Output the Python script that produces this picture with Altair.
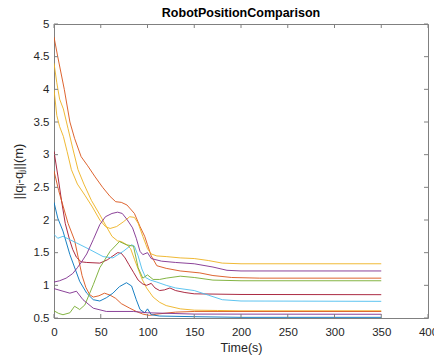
import altair as alt
import pandas as pd

# plot area size (pixels)
W, H = 374, 294

x_ticks = [0, 50, 100, 150, 200, 250, 300, 350, 400]
y_ticks = [0.5, 1, 1.5, 2, 2.5, 3, 3.5, 4, 4.5, 5]

# pairwise distance curves: time samples and distances
p1_t = [0, 4, 11, 17, 22, 29, 36, 44, 52, 60, 66, 72, 78, 86, 92, 97, 100, 104, 110, 120, 135, 156, 170, 190, 220, 350]
p1_d = [4.8, 4.5, 4.0, 3.5, 3.25, 2.97, 2.83, 2.66, 2.5, 2.36, 2.28, 2.27, 2.23, 2.10, 1.90, 1.75, 1.62, 1.45, 1.30, 1.26, 1.22, 1.19, 1.15, 1.12, 1.11, 1.11]

p2_t = [0, 3, 6, 10, 14, 18.6, 25, 33, 41, 49, 55, 60, 67, 74, 81, 86, 90, 95, 100, 104, 110, 120, 135, 150, 165, 180, 200, 350]
p2_d = [4.0, 3.6, 3.43, 3.28, 3.05, 2.77, 2.55, 2.38, 2.2, 2.0, 1.9, 1.87, 1.9, 1.97, 2.05, 2.04, 1.95, 1.75, 1.56, 1.48, 1.45, 1.44, 1.42, 1.41, 1.38, 1.34, 1.33, 1.33]

p3_t = [0, 3, 6, 10, 15, 20, 25.7, 32, 40, 49, 56, 62, 68, 72, 78, 82, 86, 90, 94, 99, 106, 113, 120, 135, 150, 175, 200, 350]
p3_d = [4.4, 4.1, 3.85, 3.7, 3.4, 3.1, 2.77, 2.55, 2.3, 2.08, 1.9, 1.75, 1.68, 1.67, 1.62, 1.56, 1.4, 1.25, 1.1, 0.96, 0.82, 0.74, 0.69, 0.64, 0.62, 0.615, 0.61, 0.61]

p4_t = [0, 4.3, 8, 12, 16.8, 20, 24, 29, 35, 49, 57, 63, 68, 72, 76, 80, 85, 90, 95, 99, 104, 108, 113, 118, 124, 130, 140, 150, 200, 350]
p4_d = [3.05, 2.66, 2.3, 1.95, 1.69, 1.55, 1.43, 1.36, 1.35, 1.34, 1.39, 1.45, 1.5, 1.49, 1.42, 1.32, 1.2, 1.08, 1.02, 1.0, 1.03, 0.96, 0.92, 0.93, 0.96, 0.92, 0.89, 0.87, 0.86, 0.857]

p5_t = [0, 5, 10, 15, 22, 26, 30, 34, 38, 42, 48, 54, 60, 66, 72, 81, 88, 95, 102, 110, 130, 150, 350]
p5_d = [2.75, 2.45, 2.2, 1.95, 1.69, 1.42, 1.15, 0.97, 0.86, 0.82, 0.84, 0.88, 0.85, 0.8, 0.72, 0.65, 0.6, 0.56, 0.54, 0.56, 0.59, 0.6, 0.6]

p6_t = [0, 4, 9.6, 17, 27.5, 35, 42, 49, 56, 63, 70, 77.5, 83, 88, 92, 97, 100, 104, 113, 150, 200, 350]
p6_d = [2.27, 2.03, 1.83, 1.47, 1.06, 0.88, 0.78, 0.76, 0.81, 0.88, 0.98, 1.04, 0.99, 0.78, 0.63, 0.58, 0.64, 0.55, 0.53, 0.52, 0.51, 0.51]

p7_t = [0, 4, 9.6, 24, 38, 52.5, 63, 74, 83, 86, 90, 94, 98, 103, 110, 120, 130, 150, 165, 180, 200, 350]
p7_d = [1.78, 1.72, 1.75, 1.65, 1.55, 1.44, 1.42, 1.52, 1.62, 1.6, 1.45, 1.25, 1.12, 1.08, 1.05, 1.0, 0.96, 0.92, 0.85, 0.78, 0.76, 0.755]

p8_t = [0, 6, 13, 20, 25, 30, 35, 42, 49, 55, 62, 68, 73, 78, 84, 88, 92, 95, 100, 104, 115, 130, 150, 170, 185, 200, 350]
p8_d = [1.05, 1.07, 1.11, 1.18, 1.27, 1.37, 1.48, 1.7, 1.93, 2.05, 2.1, 2.12, 2.1, 2.01, 1.88, 1.72, 1.52, 1.47, 1.5, 1.41, 1.37, 1.35, 1.33, 1.28, 1.23, 1.22, 1.22]

p9_t = [0, 5, 9.6, 17, 22, 27.5, 33, 42, 49, 60, 70, 77.5, 85, 90, 95, 100, 106, 113, 120, 135, 150, 170, 200, 350]
p9_d = [0.61, 0.57, 0.55, 0.58, 0.68, 0.63, 0.70, 1.01, 1.27, 1.52, 1.67, 1.62, 1.6, 1.27, 1.11, 1.16, 1.09, 1.09, 1.11, 1.14, 1.12, 1.08, 1.07, 1.07]

p10_t = [0, 9.6, 17, 24, 31, 42, 56, 85, 100, 150, 350]
p10_d = [0.95, 0.91, 0.88, 0.91, 0.78, 0.65, 0.6, 0.6, 0.58, 0.56, 0.557]

pair_names = ["d1", "d2", "d3", "d4", "d5", "d6", "d7", "d8", "d9", "d10"]
pair_colors = ["#D95319", "#EDB120", "#EDB120", "#A2142F", "#D95319",
               "#0072BD", "#4DBEEE", "#7E2F8E", "#77AC30", "#7E2F8E"]
curves = [(p1_t, p1_d), (p2_t, p2_d), (p3_t, p3_d), (p4_t, p4_d), (p5_t, p5_d),
          (p6_t, p6_d), (p7_t, p7_d), (p8_t, p8_d), (p9_t, p9_d), (p10_t, p10_d)]

rows = []
for name, (ts, ds) in zip(pair_names, curves):
    for i, (t, d) in enumerate(zip(ts, ds)):
        rows.append({"pair": name, "t": t, "d": d, "k": i})
df = pd.DataFrame(rows)

xs = alt.Scale(domain=[0, 400], nice=False, zero=False)
ys = alt.Scale(domain=[0.5, 5], nice=False, zero=False)

axis_col = "#808080"
txt_col = "#262626"

x_axis = alt.Axis(
    values=x_ticks, ticks=False, domain=False, grid=False,
    labelOverlap=False, labelFlush=False,
    labelFontSize=11.5, labelColor=txt_col, labelPadding=8,
    title="Time(s)", titleFontSize=12.5, titleFontWeight="normal",
    titleColor=txt_col, titleY=33, titleBaseline="alphabetic")
y_axis = alt.Axis(
    values=y_ticks, labelExpr="'' + datum.value", ticks=False, domain=False, grid=False,
    labelOverlap=False, labelFlush=False, labelSeparation=0,
    labelFontSize=11.5, labelColor=txt_col, labelPadding=5,
    title="||qᵢ-qⱼ||(m)", titleFontSize=13, titleFontWeight="normal",
    titleColor=txt_col, titleX=-32, titleY=H / 2, titleBaseline="alphabetic")

lines = alt.Chart(df).mark_line(strokeWidth=1, clip=True, opacity=0.9).encode(
    x=alt.X("t:Q", scale=xs, axis=x_axis),
    y=alt.Y("d:Q", scale=ys, axis=y_axis),
    color=alt.Color("pair:N", scale=alt.Scale(domain=pair_names, range=pair_colors), legend=None),
    order="k:Q",
)

xt = pd.DataFrame({"t": x_ticks})
yt = pd.DataFrame({"d": y_ticks})
tick_len = 4

# inward tick marks on all four sides of the box
bottom_ticks = alt.Chart(xt).mark_rule(color=axis_col, strokeWidth=1).encode(
    x=alt.X("t:Q", scale=xs, axis=x_axis), y=alt.value(H - tick_len), y2=alt.value(H))
top_ticks = alt.Chart(xt).mark_rule(color=axis_col, strokeWidth=1).encode(
    x=alt.X("t:Q", scale=xs, axis=x_axis), y=alt.value(0), y2=alt.value(tick_len))
left_ticks = alt.Chart(yt).mark_rule(color=axis_col, strokeWidth=1).encode(
    y=alt.Y("d:Q", scale=ys, axis=y_axis), x=alt.value(0), x2=alt.value(tick_len))
right_ticks = alt.Chart(yt).mark_rule(color=axis_col, strokeWidth=1).encode(
    y=alt.Y("d:Q", scale=ys, axis=y_axis), x=alt.value(W - tick_len), x2=alt.value(W))

chart = alt.layer(lines, bottom_ticks, top_ticks, left_ticks, right_ticks).properties(
    width=W, height=H,
    title=alt.TitleParams("RobotPositionComparison", fontSize=12.5, fontWeight="bold",
                          color="#000000", anchor="middle", baseline="alphabetic", offset=-11,
                          font="Liberation Sans"),
    autosize=alt.AutoSizeParams(type="none"),
    padding={"left": 54, "top": 24, "right": 6, "bottom": 38},
    background="white",
).configure_view(
    stroke=axis_col, strokeWidth=1
).configure_axis(
    labelFont="Liberation Sans", titleFont="Liberation Sans"
)

chart.save("out.html", embed_options={"renderer": "svg", "actions": False})
